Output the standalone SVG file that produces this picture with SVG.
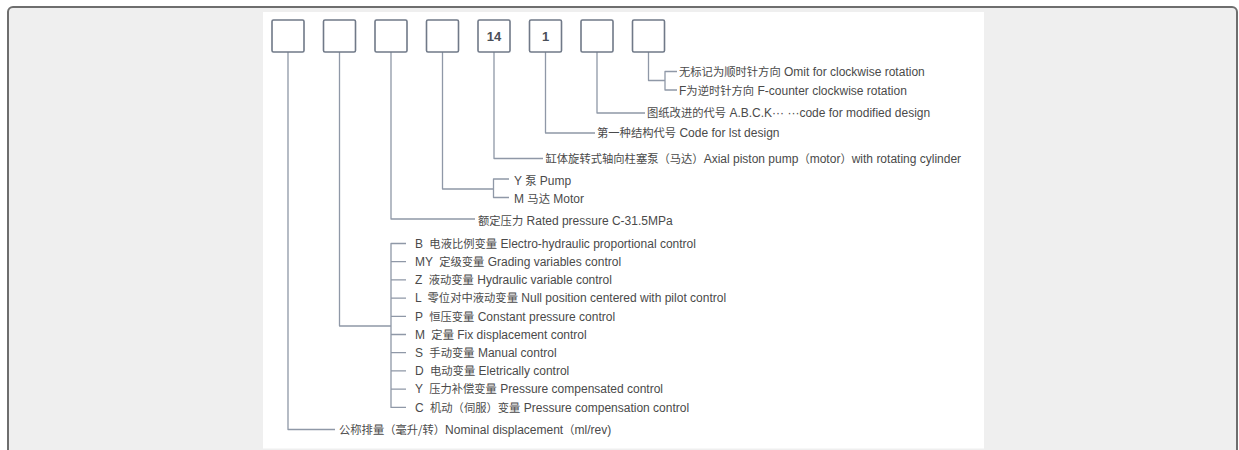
<svg xmlns="http://www.w3.org/2000/svg" width="1239" height="450" viewBox="0 0 1239 450">
<style>
.t{font-family:"Liberation Sans","Noto Sans CJK SC",sans-serif;font-size:12px;fill:#4a4a4a}
.k{font-family:"Noto Sans CJK SC","Liberation Sans",sans-serif;font-size:11.3px}
.n{font-family:"Liberation Sans",sans-serif;font-size:13px;font-weight:bold;fill:#4a4f58;text-anchor:middle}
.box{fill:#fff;stroke:#707988;stroke-width:1.6}
.c{fill:none;stroke:#8f98a7;stroke-width:1.3;stroke-linejoin:round}
</style>
<rect x="8" y="7" width="1229" height="470" rx="5" fill="#efefef" stroke="#6e6e6e" stroke-width="2"/>
<rect x="263" y="12" width="721" height="436.5" fill="#ffffff"/>

<g id="connectors" class="c">
<path d="M288 52V429.5H335"/>
<path d="M339.5 52V326H391"/>
<path d="M406 243.5H391V407.4H406M391 261.7H406M391 279.9H406M391 298.1H406M391 316.3H406M391 334.5H406M391 352.7H406M391 370.9H406M391 389.1H406"/>
<path d="M391 52V219H475"/>
<path d="M442.5 52V189H493.5"/>
<path d="M509 179H493.5V197.5H509"/>
<path d="M494 52V158.5H543"/>
<path d="M545.5 52V133H595"/>
<path d="M597 52V113H645"/>
<path d="M648.5 52V80.5H665"/>
<path d="M677 71.5H665V90H677"/>
</g>

<g id="box1"><rect class="box" x="272" y="20" width="32" height="32" rx="1.5"/></g>
<g id="box2"><rect class="box" x="323.5" y="20" width="32" height="32" rx="1.5"/></g>
<g id="box3"><rect class="box" x="375" y="20" width="32" height="32" rx="1.5"/></g>
<g id="box4"><rect class="box" x="426.5" y="20" width="32" height="32" rx="1.5"/></g>
<g id="box5"><rect class="box" x="478" y="20" width="32" height="32" rx="1.5"/><text class="n" x="494" y="40.5">14</text></g>
<g id="box6"><rect class="box" x="529.5" y="20" width="32" height="32" rx="1.5"/><text class="n" x="545.5" y="40.5">1</text></g>
<g id="box7"><rect class="box" x="581" y="20" width="32" height="32" rx="1.5"/></g>
<g id="box8"><rect class="box" x="632.5" y="20" width="32" height="32" rx="1.5"/></g>

<g id="labels-rotation">
<text class="t" x="679" y="76"><tspan class="k">无标记为顺时针方向</tspan> Omit for clockwise rotation</text>
<text class="t" x="679" y="94.5">F<tspan class="k">为逆时针方向</tspan> F-counter clockwise rotation</text>
</g>
<g id="label-modified"><text class="t" x="647" y="117"><tspan class="k">图纸改进的代号</tspan> A.B.C.K··· ···code for modified design</text></g>
<g id="label-design"><text class="t" x="597" y="137"><tspan class="k">第一种结构代号</tspan> Code for lst design</text></g>
<g id="label-type"><text class="t" x="545.5" y="162.5"><tspan class="k">缸体旋转式轴向柱塞泵（马达）</tspan>Axial piston pump<tspan class="k">（</tspan>motor<tspan class="k">）</tspan>with rotating cylinder</text></g>
<g id="labels-pump">
<text class="t" x="514" y="184.5">Y <tspan class="k">泵</tspan> Pump</text>
<text class="t" x="514" y="203">M <tspan class="k">马达</tspan> Motor</text>
</g>
<g id="label-pressure"><text class="t" x="478" y="225"><tspan class="k">额定压力</tspan> Rated pressure C-31.5MPa</text></g>
<g id="labels-control">
<text class="t" x="415" y="247.8">B <tspan class="k" dx="3">电液比例变量</tspan> Electro-hydraulic proportional control</text>
<text class="t" x="415" y="266">MY <tspan class="k" dx="3">定级变量</tspan> Grading variables control</text>
<text class="t" x="415" y="284.2">Z <tspan class="k" dx="3">液动变量</tspan> Hydraulic variable control</text>
<text class="t" x="415" y="302.4">L <tspan class="k" dx="3">零位对中液动变量</tspan> Null position centered with pilot control</text>
<text class="t" x="415" y="320.6">P <tspan class="k" dx="3">恒压变量</tspan> Constant pressure control</text>
<text class="t" x="415" y="338.8">M <tspan class="k" dx="3">定量</tspan> Fix displacement control</text>
<text class="t" x="415" y="357">S <tspan class="k" dx="3">手动变量</tspan> Manual control</text>
<text class="t" x="415" y="375.2">D <tspan class="k" dx="3">电动变量</tspan> Eletrically control</text>
<text class="t" x="415" y="393.4">Y <tspan class="k" dx="3">压力补偿变量</tspan> Pressure compensated control</text>
<text class="t" x="415" y="411.6">C <tspan class="k" dx="3">机动（伺服）变量</tspan> Pressure compensation control</text>
</g>
<g id="label-displacement"><text class="t" x="339" y="434"><tspan class="k">公称排量（毫升/转）</tspan>Nominal displacement<tspan class="k">（</tspan>ml/rev)</text></g>
</svg>
